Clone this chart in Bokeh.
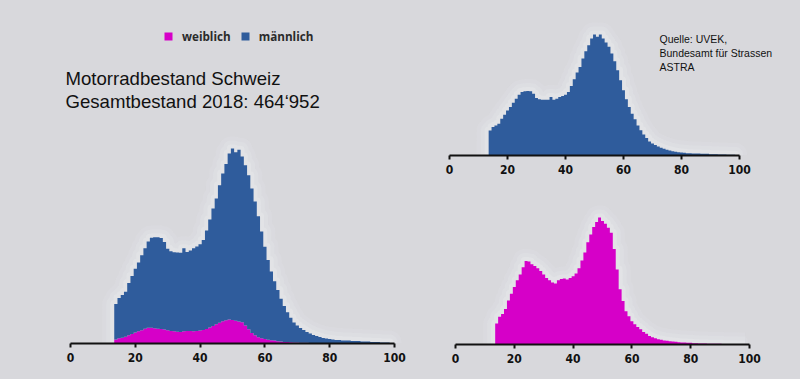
import numpy as np
from bokeh.plotting import figure
from bokeh.layouts import row, column
from bokeh.models import Label, Legend, LegendItem, FixedTicker, Range1d
from bokeh.embed import file_html
from bokeh.resources import INLINE

# ---------------- data (Motorradbestand Schweiz 2018, by age) ----------------
ages = list(range(14, 99))
maennlich = [
    3330, 3770, 4000, 4220, 4880, 5420, 5990, 6440, 7020, 7550, 8080,   # 14-24
    8440, 8520, 8570, 8520, 8210, 7640, 7460, 7410, 7410, 7410,         # 25-34
    7770, 7410, 7550, 7770, 7900, 8080, 8440, 9240, 10120, 11010,       # 35-44
    11770, 12880, 13850, 14650, 15540, 16070, 15760, 16070, 15540, 15010,  # 45-54
    14430, 13540, 12520, 11320, 9990, 8660, 7460, 6440, 5550, 4800,     # 55-64
    4000, 3370, 2800, 2310, 1860, 1600, 1380, 1200, 1020, 890,          # 65-74
    750, 670, 580, 490, 440, 400, 360, 310, 310, 270,                   # 75-84
    270, 270, 220, 220, 220, 180, 180, 180, 130, 130,                   # 85-94
    130, 90, 90, 90,                                                    # 95-98
]
weiblich = [
    370, 490, 540, 630, 780, 900, 1020, 1140, 1240, 1370, 1480,         # 14-24
    1470, 1420, 1390, 1350, 1300, 1240, 1180, 1140, 1100, 1080,         # 25-34
    1140, 1160, 1170, 1150, 1180, 1210, 1260, 1350, 1490, 1630,         # 35-44
    1810, 1950, 2080, 2170, 2250, 2190, 2140, 2070, 1980, 1690,         # 45-54
    1330, 980, 770, 590, 500, 410, 360, 310, 270, 220,                  # 55-64
    190, 150, 130, 110, 95, 83, 71, 65, 59, 53,                         # 65-74
    47, 41, 36, 36, 30, 30, 24, 24, 18, 18,                             # 75-84
    18, 12, 12, 12, 12, 12, 6, 6, 6, 6,                                 # 85-94
    6, 0, 0, 0,                                                         # 95-98
]
tick_values = [0, 20, 40, 60, 80, 100]
series_labels = ["weiblich", "männlich"]
title_lines = ["Motorradbestand Schweiz", "Gesamtbestand 2018: 464\u2018952"]
source_lines = ["Quelle: UVEK,", "Bundesamt für Strassen", "ASTRA"]

# ---------------- styles ----------------
BG = "#d8d8dc"
BLUE = "#2f5c9c"
PINK = "#d600c8"
HALO = "#e6e8ea"
TICK_FONT = "DejaVu Sans Condensed, DejaVu Sans"

a = np.array(ages, dtype=float)
m = np.array(maennlich, dtype=float)
w = np.array(weiblich, dtype=float)
tot = m + w
edges = np.append(a - 0.5, a[-1] + 0.5)          # bin edges
halo_x = np.concatenate([[edges[0]], edges])


def ext(v):
    return np.append(v, v[-1])


def halo_y(v):
    return np.concatenate([[0], v, [0]])


def make_fig(width, height, px0, px100, b_bottom):
    # frame spans the whole figure width; px0/px100: pixel of age 0 / age 100
    s = (px100 - px0) / 100.0
    p = figure(width=width, height=height, output_backend="svg", toolbar_location=None,
               y_axis_location=None,
               x_range=Range1d(-px0 / s, 100 + (width - px100) / s),
               min_border_left=0, min_border_right=0,
               min_border_bottom=b_bottom, min_border_top=0)
    p.background_fill_color = BG
    p.border_fill_color = BG
    p.outline_line_color = None
    p.grid.visible = False
    ax = p.xaxis[0]
    ax.bounds = (0, 100)
    ax.ticker = FixedTicker(ticks=tick_values)
    ax.axis_line_color = "#111111"
    ax.axis_line_width = 2
    ax.major_tick_line_color = "#111111"
    ax.major_tick_line_width = 2
    ax.major_tick_in = 0
    ax.major_tick_out = 4
    ax.minor_tick_line_color = None
    ax.major_label_text_font = TICK_FONT
    ax.major_label_text_font_style = "bold"
    ax.major_label_text_font_size = "12px"
    ax.major_label_text_color = "#111111"
    ax.major_label_standoff = 5
    return p


def halo(p, y):
    for lw, al in ((24, 0.2), (16, 0.3), (8, 0.55)):
        p.step(x=halo_x, y=halo_y(y), mode="after", line_width=lw, line_color=HALO,
               line_alpha=al, line_join="round")


def area(p, bottom, top, color):
    if hasattr(p, "varea_step"):
        return p.varea_step(x=edges, y1=ext(bottom), y2=ext(top), step_mode="after",
                            fill_color=color)
    return p.quad(left=edges[:-1], right=edges[1:], bottom=bottom, top=top,
                  fill_color=color, line_color=color, line_width=0.6)


H = 379
# ---------------- left: stacked ----------------
pl = make_fig(430, H, 70, 394, H - 343)
pl.y_range = Range1d(0, tot.max() * 343 / 195)
halo(pl, tot)
rw = area(pl, np.zeros_like(w), w, PINK)
rm = area(pl, w, tot, BLUE)

legend = Legend(items=[LegendItem(label=series_labels[0], renderers=[rw]),
                       LegendItem(label=series_labels[1], renderers=[rm])],
                orientation="horizontal", location=(163, 299),
                background_fill_alpha=0, border_line_color=None,
                padding=0, margin=0, spacing=9, label_standoff=9,
                glyph_width=10, glyph_height=10,
                label_text_font="Open Sans", label_text_font_style="bold",
                label_text_font_size="11.7px", label_text_color="#2b2b2b")
pl.add_layout(legend, "center")

for i, t in enumerate(title_lines):
    pl.add_layout(Label(x=65, y=265.5 - i * 23.4, x_units="screen", y_units="screen",
                        text=t, text_font="Liberation Sans", text_font_size="18.6px",
                        text_color="#111111", text_baseline="alphabetic"))

# ---------------- top right: männlich ----------------
TH = 190
pt = make_fig(370, TH, 449 - 430, 739 - 430, TH - 155)
pt.y_range = Range1d(0, m.max() * 155 / 121)
halo(pt, m)
area(pt, np.zeros_like(m), m, BLUE)
for i, t in enumerate(source_lines):
    pt.add_layout(Label(x=229, y=117 - i * 14, x_units="screen", y_units="screen",
                        text=t, text_font="Liberation Sans", text_font_size="10.5px",
                        text_color="#111111", text_baseline="alphabetic"))

# ---------------- bottom right: weiblich ----------------
BH = H - TH
pb = make_fig(370, BH, 455 - 430, 749 - 430, H - 344)
pb.y_range = Range1d(0, w.max() * (344 - TH) / 127)
halo(pb, w)
area(pb, np.zeros_like(w), w, PINK)

layout = row(pl, column(pt, pb, spacing=0), spacing=0)
layout.styles = {"background-color": BG}

open("out.html", "w").write(file_html(layout, INLINE))
